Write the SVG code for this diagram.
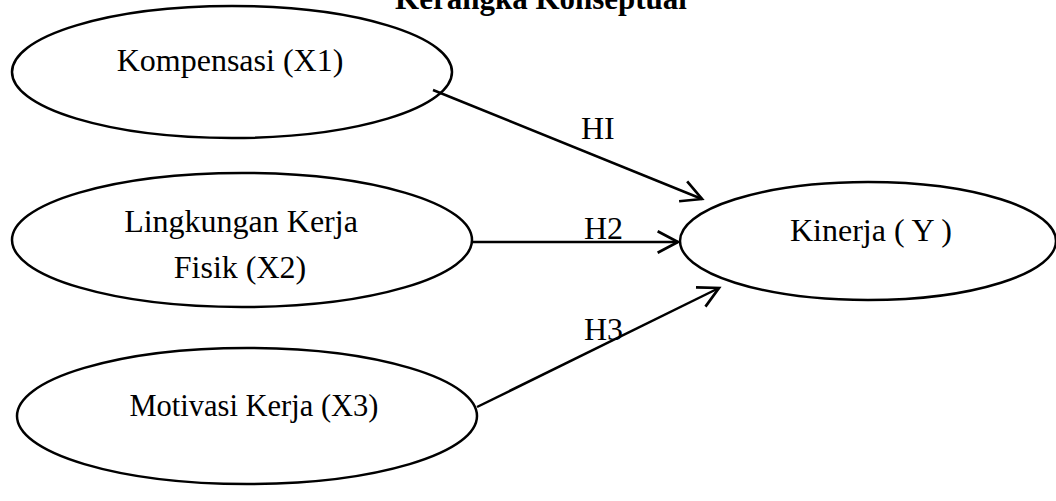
<svg xmlns="http://www.w3.org/2000/svg" width="1056" height="501" viewBox="0 0 1056 501">
  <style>
    .node { fill: #ffffff; stroke: #000000; stroke-width: 2.5; }
    .lbl { font-family: "Liberation Serif", "Times New Roman", serif; font-size: 32px; fill: #000000; }
    .title { font-family: "Liberation Serif", "Times New Roman", serif; font-size: 31px; font-weight: bold; fill: #000000; }
    .edge { stroke: #000000; stroke-width: 2.5; fill: none; marker-end: url(#open); }
  </style>
  <defs>
    <marker id="open" markerUnits="userSpaceOnUse" markerWidth="30" markerHeight="30" viewBox="-22 -14 26 28" refX="0" refY="0" orient="auto">
      <path d="M-19,-10 L0,0 L-19,10" fill="none" stroke="#000000" stroke-width="2.5"/>
    </marker>
  </defs>
  <rect width="1056" height="501" fill="#ffffff"/>

  <!-- heading sits at the very top edge -->
  <text class="title" x="541" y="9" text-anchor="middle">Kerangka Konseptual</text>

  <g id="kompensasi">
    <ellipse class="node" cx="232" cy="72" rx="220" ry="66"/>
    <text class="lbl" x="230" y="71" text-anchor="middle">Kompensasi (X1)</text>
  </g>

  <g id="lingkungan">
    <ellipse class="node" cx="242" cy="240" rx="230" ry="67"/>
    <text class="lbl" x="241" y="232" text-anchor="middle">Lingkungan Kerja</text>
    <text class="lbl" x="240" y="278" text-anchor="middle">Fisik (X2)</text>
  </g>

  <g id="motivasi">
    <ellipse class="node" cx="247" cy="416" rx="230" ry="68"/>
    <text class="lbl" x="254" y="416" text-anchor="middle" style="font-size:30.5px">Motivasi Kerja (X3)</text>
  </g>

  <g id="kinerja">
    <ellipse class="node" cx="868" cy="241" rx="188" ry="59"/>
    <text class="lbl" x="871" y="241" text-anchor="middle">Kinerja ( Y )</text>
  </g>

  <g id="connectors">
    <line class="edge" x1="433" y1="90" x2="702" y2="199"/>
    <line class="edge" x1="472" y1="242" x2="678" y2="242"/>
    <line class="edge" x1="477" y1="407" x2="719" y2="288"/>
    <text class="lbl" x="581" y="139">HI</text>
    <text class="lbl" x="584" y="239">H2</text>
    <text class="lbl" x="584" y="340">H3</text>
  </g>
</svg>
